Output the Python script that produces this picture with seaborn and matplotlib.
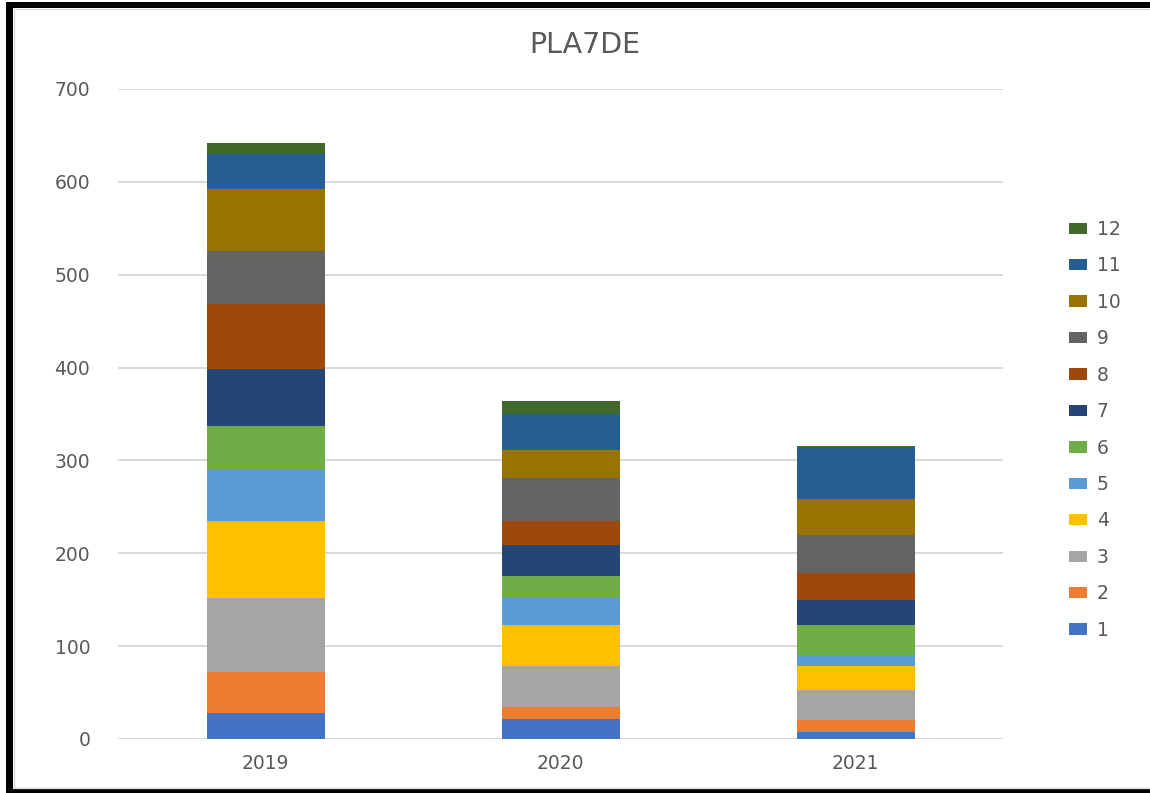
import matplotlib
matplotlib.use("Agg")
import matplotlib.pyplot as plt
from matplotlib.patches import Rectangle, Patch
import seaborn as sns
import numpy as np
import pandas as pd

years = ["2019", "2020", "2021"]
series_names = ["1", "2", "3", "4", "5", "6", "7", "8", "9", "10", "11", "12"]
s1 = [28, 22, 8]
s2 = [44, 12, 13]
s3 = [80, 45, 32]
s4 = [83, 44, 26]
s5 = [55, 29, 12]
s6 = [47, 24, 32]
s7 = [62, 33, 27]
s8 = [70, 26, 29]
s9 = [57, 46, 41]
s10 = [66, 30, 38]
s11 = [38, 39, 57]
s12 = [12, 14, 1]
series_values = [s1, s2, s3, s4, s5, s6, s7, s8, s9, s10, s11, s12]
colors = ["#4472C4", "#ED7D31", "#A5A5A5", "#FFC000", "#5B9BD5", "#70AD47",
          "#264478", "#9E480E", "#636363", "#997300", "#255E91", "#43682B"]
title = "PLA7DE"
yticks = [0, 100, 200, 300, 400, 500, 600, 700]

TXT = "#595959"
sns.set_theme(style="white")
plt.rcParams["font.family"] = ["DejaVu Sans"]

W, H = 1150, 793
fig = plt.figure(figsize=(W / 100, H / 100), dpi=100)
fig.patch.set_facecolor("white")
ax = fig.add_axes([118 / W, (H - 739) / H, (1003 - 118) / W, (739 - 89) / H])

cum = np.cumsum(np.array(series_values), axis=0)
for i in range(len(series_names) - 1, -1, -1):
    df = pd.DataFrame({"year": years, "value": cum[i]})
    sns.barplot(data=df, x="year", y="value", color=colors[i], width=0.4,
                saturation=1, ax=ax, zorder=3, linewidth=0)

ax.set_ylim(0, 700)
ax.set_xlim(-0.5, 2.5)
ax.set_yticks(yticks)
ax.yaxis.grid(True, color="#D9D9D9", linewidth=1.4, zorder=0)
ax.set_axisbelow(True)
for sp in ax.spines.values():
    sp.set_visible(False)
ax.set_xlabel("")
ax.set_ylabel("")
ax.tick_params(axis="y", length=0, pad=20, labelsize=13.5, labelcolor=TXT)
ax.tick_params(axis="x", length=0, pad=11, labelsize=13.5, labelcolor=TXT)

fig.text(585 / W, 1 - 45 / H, title, ha="center", va="center", fontsize=20.5, color=TXT)

handles = [Patch(facecolor=colors[i], edgecolor="none", label=series_names[i])
           for i in range(len(series_names) - 1, -1, -1)]
fig.legend(handles=handles, loc="upper left", bbox_to_anchor=(1052 / W, 1 - 203 / H),
           frameon=False, fontsize=13.5, labelcolor=TXT, handlelength=0.95,
           handleheight=0.55, handletextpad=0.55, labelspacing=0.93)

# frame
fig.add_artist(Rectangle((6 / W, 0), 7 / W, 1 - 2 / H, transform=fig.transFigure,
                         facecolor="black", edgecolor="none"))
fig.add_artist(Rectangle((6 / W, 1 - 8 / H), 1 - 6 / W, 6 / H, transform=fig.transFigure,
                         facecolor="black", edgecolor="none"))
fig.add_artist(Rectangle((6 / W, 0), 1 - 6 / W, 4 / H, transform=fig.transFigure,
                         facecolor="black", edgecolor="none"))
fig.add_artist(Rectangle((14 / W, 5 / H), 1, 1 - 14 / H, transform=fig.transFigure,
                         facecolor="none", edgecolor="#D9D9D9", linewidth=1))

fig.savefig("out.png", dpi=100)
